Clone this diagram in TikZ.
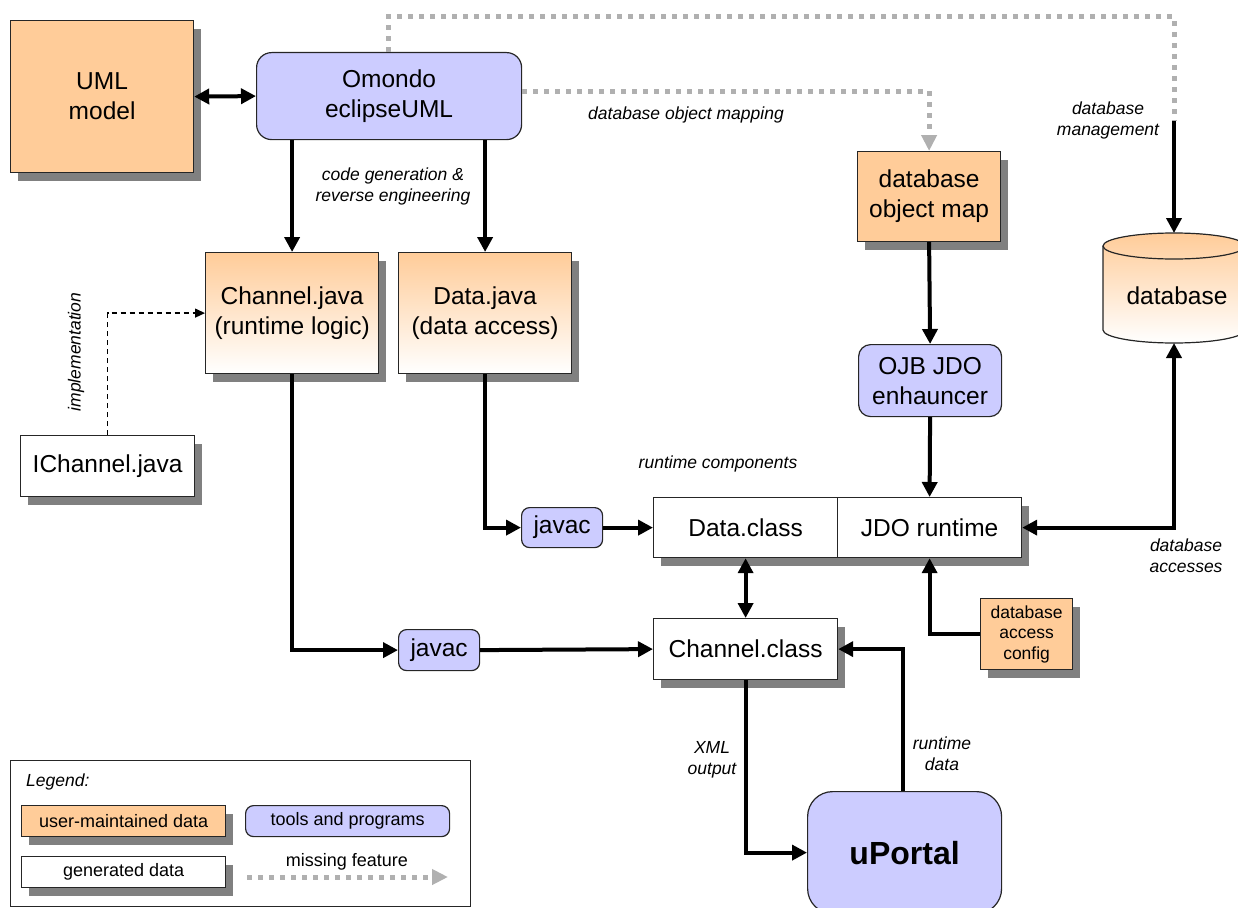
\documentclass[tikz,border=0pt]{standalone}
\usepackage{fontspec}
\setmainfont{Liberation Sans}
\usetikzlibrary{arrows.meta,shadows}
\definecolor{peach}{HTML}{FFCC99}
\definecolor{lav}{HTML}{CCCCFF}
\definecolor{shadgray}{HTML}{808080}
\definecolor{missgray}{HTML}{B0B0B0}
\newcommand\fBig{\fontsize{24.5}{30}\selectfont}
\newcommand\fLab{\fontsize{17.5}{21}\selectfont\itshape}
\newcommand\fLeg{\fontsize{18}{21}\selectfont}
\newcommand\fCfg{\fontsize{17.5}{20.5}\selectfont}
\begin{document}
\begin{tikzpicture}[x=1pt,y=-1pt,
  nbox/.style={draw=black!85, line width=1.2pt, inner sep=0pt, align=center, anchor=north west, font=\fBig},
  shd/.style={drop shadow={shadow xshift=7pt, shadow yshift=-8pt, fill=shadgray, opacity=1}},
  user/.style={nbox, fill=peach, shd},
  grad/.style={nbox, top color=peach, bottom color=white, shd},
  gen/.style={nbox, fill=white, shd},
  tool/.style={nbox, fill=lav, rounded corners=#1},
  sz/.style 2 args={minimum width=#1, minimum height=#2},
  lab/.style={align=center, font=\fLab, inner sep=0pt},
  conn/.style={line width=4pt, -{Triangle[length=15pt,width=15pt]}},
  both/.style={line width=4pt, {Triangle[length=15pt,width=15pt]}-{Triangle[length=15pt,width=15pt]}},
  missline/.style={line width=5pt, draw=missgray, dash pattern=on 5pt off 6pt},
  missing/.style={missline, -{Triangle[length=16pt,width=15pt]}},
  impl/.style={line width=1.3pt, dash pattern=on 5pt off 4pt, -{Triangle[length=10pt,width=9pt]}}
]
\useasboundingbox (0,0) rectangle (1238,907);
\clip (0,0) rectangle (1238,907);

% nodes
\node[user, sz={183}{152}] (uml) at (10,20) {UML\\model};
\node[tool=15, sz={265}{87}] (omondo) at (256,52) {Omondo\\eclipseUML};
\node[grad, sz={173}{121}] (chj) at (205,252) {Channel.java\\(runtime logic)};
\node[grad, sz={173}{121}] (dj) at (398,252) {Data.java\\(data access)};
\node[gen, sz={174}{61}] (ich) at (20,435) {IChannel.java};
\node[user, sz={143}{90}] (dbmap) at (857,151) {database\\object map};
\node[tool=12, sz={143}{72}] (ojb) at (858,344) {OJB JDO\\enhauncer};
\node[tool=8, sz={81}{40}] (javac1) at (521,507) {javac};
\node[tool=8, sz={81}{41}] (javac2) at (398,629) {javac};
\node[gen, sz={184}{60}] (dataclass) at (653,497) {Data.class};
\node[gen, sz={184}{60}] (jdo) at (837,497) {JDO runtime};
\node[gen, sz={184}{61}] (chclass) at (653,618) {Channel.class};
\node[user, sz={92}{71}, font=\fCfg] (config) at (980,598) {database\\access\\config};
\node[tool=25, sz={194}{122}, font=\fontsize{32}{36}\selectfont\bfseries] (uportal) at (807,791) {uPortal};

% database cylinder
\fill[top color=peach, bottom color=white]
  (1103,246) -- (1103,330) arc[start angle=180, end angle=0, x radius=71, y radius=13]
  -- (1245,246) arc[start angle=0, end angle=-180, x radius=71, y radius=13] -- cycle;
\draw[line width=1.2pt, draw=black!85]
  (1103,246) -- (1103,330) arc[start angle=180, end angle=0, x radius=71, y radius=13]
  -- (1245,246) arc[start angle=0, end angle=-180, x radius=71, y radius=13] -- cycle;
\draw[line width=1.2pt, draw=black!85] (1103,246) arc[start angle=180, end angle=0, x radius=71, y radius=13];
\node[font=\fBig, inner sep=0pt] (db) at (1177,296) {database};
\coordinate (dbtop) at (1174,233);
\coordinate (dbbot) at (1174,343);

% connectors
\draw[both] (uml.east) -- (omondo.west);
\draw[conn] (omondo.south -| chj.north) -- (chj.north);
\draw[conn] (omondo.south -| dj.north) -- (dj.north);
\draw[missing] ([yshift=5pt]omondo.east) -| (dbmap.north);
\coordinate (dmcorner) at (1174,17);
\coordinate (dmend) at (1174,121);
\draw[missline] ([xshift=132pt]omondo.north west) |- (dmcorner) -- (dmend);
\draw[conn] (dmend) -- (dbtop);
\draw[impl] (ich.north) |- (chj.west);
\draw[conn] (chj.south) |- (javac2.west);
\draw[conn] (dj.south) |- (javac1.west);
\draw[conn] (javac1.east) -- (dataclass.west);
\draw[conn] (javac2.east) -- (chclass.west);
\draw[both] (dataclass.south) -- (chclass.north);
\draw[conn] (dbmap.south) -- (ojb.north);
\draw[conn] (ojb.south) -- (jdo.north);
\draw[conn] (config.west) -| (jdo.south);
\draw[both] (jdo.east) -| (dbbot);
\draw[conn] (chclass.south) |- (uportal.west);
\draw[conn] ([xshift=96pt]uportal.north west) |- (chclass.east);

% labels
\node[lab] (lcode) at (393,186) {code generation \&\\reverse engineering};
\node[lab] (lmap) at (686,115) {database object mapping};
\node[lab] (lmgmt) at (1108,120) {database\\management};
\node[lab, rotate=90] (limpl) at (76,352) {implementation};
\node[lab] (lrc) at (718,464) {runtime components};
\node[lab] (lacc) at (1186,556) {database\\accesses};
\node[lab] (lxml) at (712,760) {XML\\output};
\node[lab] (lrd) at (942,754) {runtime\\data};

% legend
\node[draw=black!85, line width=1pt, anchor=north west, minimum width=460, minimum height=146, inner sep=0pt] (legend) at (10,760) {};
\node[lab, anchor=west] (legtitle) at (26,782) {Legend:};
\node[user, sz={204}{31}, font=\fLeg] (leguser) at (21,805) {user-maintained data};
\node[tool=8, sz={204}{31}, font=\fLeg] (legtool) at (245,805) {tools and programs};
\node[gen, sz={204}{31}, font=\fLeg] (leggen) at (21,856) {generated data};
\node[font=\fLeg, inner sep=0pt] (legmiss) at (347,862) {missing feature};
\coordinate (lma) at (247,877);
\coordinate (lmb) at (448,877);
\draw[missing] (lma) -- (lmb);
\end{tikzpicture}
\end{document}
